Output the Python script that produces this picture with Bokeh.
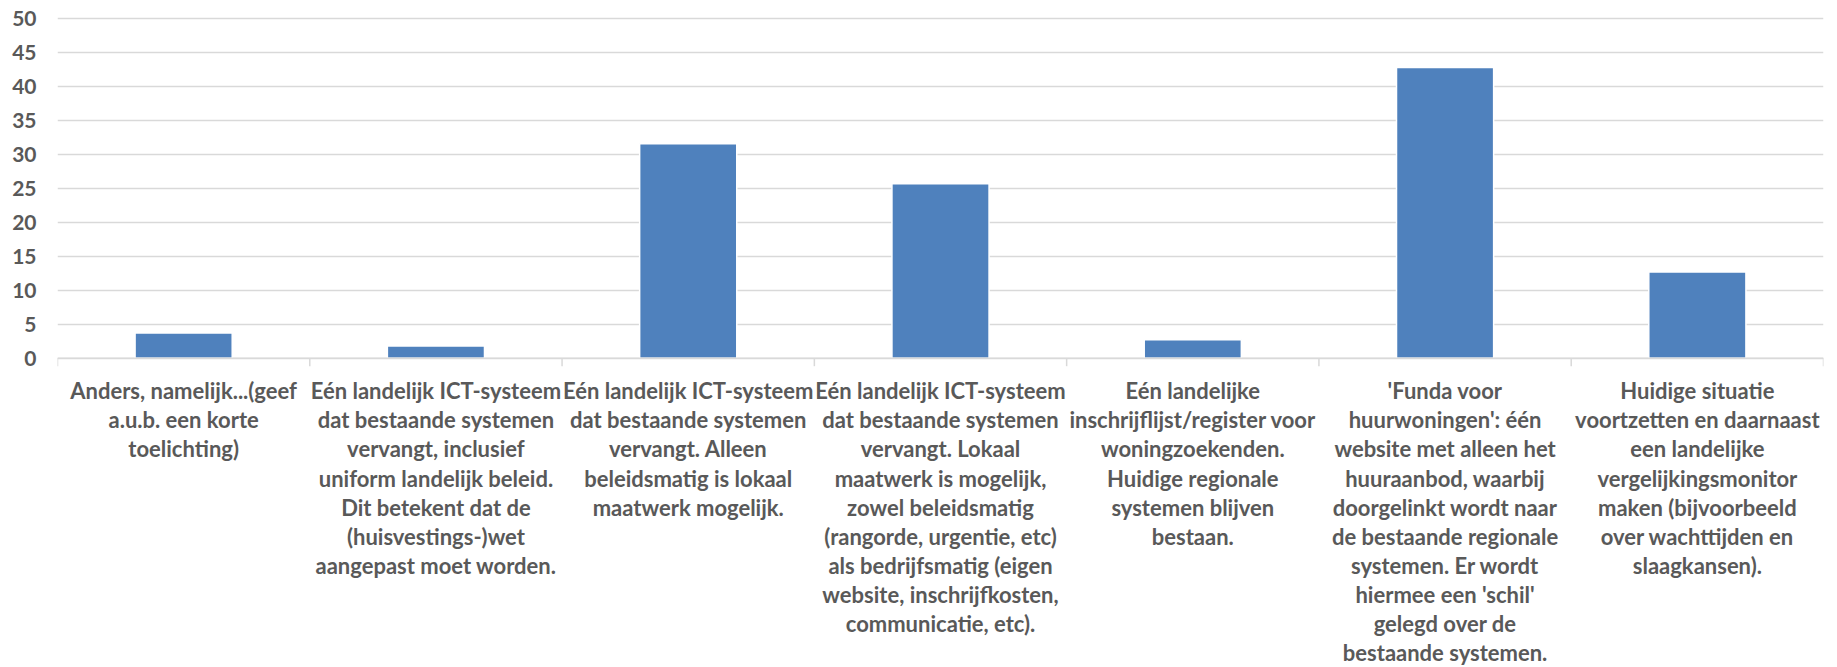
from bokeh.plotting import figure
from bokeh.models import Range1d, FixedTicker, Span, ColumnDataSource
from bokeh.core.properties import value
from bokeh.embed import file_html
from bokeh.resources import INLINE

# ---- data ----
categories = [
    ["Anders, namelijk...(geef", "a.u.b. een korte", "toelichting)"],
    ["Eén landelijk ICT-systeem", "dat bestaande systemen", "vervangt, inclusief",
     "uniform landelijk beleid.", "Dit betekent dat de", "(huisvestings-)wet",
     "aangepast moet worden."],
    ["Eén landelijk ICT-systeem", "dat bestaande systemen", "vervangt. Alleen",
     "beleidsmatig is lokaal", "maatwerk mogelijk."],
    ["Eén landelijk ICT-systeem", "dat bestaande systemen", "vervangt. Lokaal",
     "maatwerk is mogelijk,", "zowel beleidsmatig", "(rangorde, urgentie, etc)",
     "als bedrijfsmatig (eigen", "website, inschrijfkosten,", "communicatie, etc)."],
    ["Eén landelijke", "inschrijflijst/register voor", "woningzoekenden.",
     "Huidige regionale", "systemen blijven", "bestaan."],
    ["'Funda voor", "huurwoningen': één", "website met alleen het",
     "huuraanbod, waarbij", "doorgelinkt wordt naar", "de bestaande regionale",
     "systemen. Er wordt", "hiermee een 'schil'", "gelegd over de",
     "bestaande systemen."],
    ["Huidige situatie", "voortzetten en daarnaast", "een landelijke",
     "vergelijkingsmonitor", "maken (bijvoorbeeld", "over wachttijden en",
     "slaagkansen)."],
]
values = [3.7, 1.8, 31.6, 25.7, 2.7, 42.8, 12.7]
y_ticks = [0, 5, 10, 15, 20, 25, 30, 35, 40, 45, 50]

# ---- layout constants ----
W, H = 1837, 667
PX = 6.79            # pixels per unit
ZERO_FROM_TOP = 357.7
y_top = ZERO_FROM_TOP / PX
y_bot = -(H - ZERO_FROM_TOP) / PX
n = len(values)

FONT = "Lato"
TXT = "#595959"
GRID = "#d9d9d9"

p = figure(width=W, height=H, output_backend="svg", toolbar_location=None,
           x_range=Range1d(0, n), y_range=Range1d(y_bot, y_top),
           min_border_left=57, min_border_right=14, min_border_top=0,
           min_border_bottom=0)
p.outline_line_color = None
p.xaxis.visible = False
p.xgrid.visible = False

p.yaxis.ticker = FixedTicker(ticks=y_ticks)
p.yaxis.axis_line_color = None
p.yaxis.major_tick_line_color = None
p.yaxis.minor_tick_line_color = None
p.yaxis.major_tick_out = 0
p.yaxis.major_label_standoff = 21
p.yaxis.major_label_text_font = FONT
p.yaxis.major_label_text_font_style = "bold"
p.yaxis.major_label_text_font_size = "21px"
p.yaxis.major_label_text_color = TXT
p.ygrid.grid_line_color = GRID
p.ygrid.grid_line_width = 1.5

centers = [i + 0.5 for i in range(n)]
p.vbar(x=centers, top=values, bottom=0, width=0.385,
       fill_color="#4F81BD", line_color="white", line_width=1.5)

# category axis line + tick marks
p.add_layout(Span(location=0, dimension="width", line_color=GRID, line_width=1.5))
p.ray(x=list(range(n + 1)), y=[0] * (n + 1), length=8, length_units="screen",
      angle=-1.5707963, line_color=GRID, line_width=1.5)

# category labels
xs, ys, ts = [], [], []
FIRST, STEP = 32.5, 29.1
for i, lines in enumerate(categories):
    for k, t in enumerate(lines):
        xs.append(i + 0.5)
        ys.append(-(FIRST + STEP * k) / PX)
        ts.append(t)
src = ColumnDataSource(dict(x=xs, y=ys, t=ts))
p.text(x="x", y="y", text="t", source=src, text_align="center",
       text_baseline="middle", text_font=value(FONT), text_font_style="bold",
       text_font_size="22px", text_color=TXT)

open("out.html", "w").write(file_html(p, INLINE))
